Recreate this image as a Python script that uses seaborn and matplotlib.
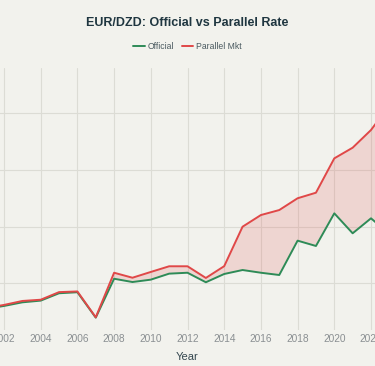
import numpy as np
import pandas as pd
import seaborn as sns
import matplotlib.pyplot as plt

years = list(range(2000, 2024))
official = [74.7, 77.4, 80.0, 83.2, 84.7, 91.2, 92.1, 69.7, 104.0, 101.1, 103.2, 108.5,
            109.3, 100.9, 108.2, 111.7, 109.3, 107.3, 137.6, 132.9, 161.7, 144.1, 157.3, 143.5]
parallel = [75.4, 78.2, 80.9, 84.4, 85.5, 92.2, 92.8, 70.0, 109.3, 104.9, 110.0, 115.0,
            115.0, 104.7, 115.1, 149.9, 160.2, 164.6, 175.0, 179.9, 210.2, 219.6, 235.2, 257.0]
xticks = list(range(2002, 2023, 2))
yticks = [100, 150, 200, 250]

df = pd.DataFrame({'Year': years, 'Official': official, 'Parallel Mkt': parallel})
long = df.melt(id_vars='Year', var_name='Series', value_name='Rate')

sns.set_style('white')
plt.rcParams['font.family'] = ['Liberation Sans', 'DejaVu Sans']

bg = '#f2f2ed'
green = '#2e8b57'
red = '#e04848'

fig = plt.figure(figsize=(3.75, 3.66), dpi=100, facecolor=bg)
ax = fig.add_axes([-0.0872, 0.0984, 1.1744, 0.7158])
ax.set_facecolor(bg)

ax.fill_between(df['Year'], df['Official'], df['Parallel Mkt'], color=red, alpha=0.17, linewidth=0)
sns.lineplot(data=long, x='Year', y='Rate', hue='Series', palette=[green, red],
             linewidth=1.4, ax=ax, legend=False)

ax.set_xlim(2000, 2024)
ax.set_ylim(58.8, 289.9)
ax.set_xticks(xticks)
ax.set_xticklabels([str(y) for y in xticks])
ax.set_yticks(yticks)
ax.set_yticklabels([])
ax.grid(True, color='#dcdcd5', linewidth=0.8)
ax.set_axisbelow(True)
for s in ax.spines.values():
    s.set_visible(False)
ax.tick_params(axis='both', length=0, labelsize=7.3, labelcolor='#8a8f92', pad=3)
ax.set_xlabel('Year', fontsize=8, color='#34474f', labelpad=6)
ax.set_ylabel('')

fig.text(0.5, 0.938, 'EUR/DZD: Official vs Parallel Rate', ha='center', va='center',
         fontsize=9, fontweight='bold', color='#1f3640')

handles = [plt.Line2D([], [], color=green, lw=1.4), plt.Line2D([], [], color=red, lw=1.4)]
fig.legend(handles, ['Official', 'Parallel Mkt'], loc='center', bbox_to_anchor=(0.5, 0.872),
           ncol=2, frameon=False, fontsize=6.2, labelcolor='#4a5a60', handlelength=1.3,
           handletextpad=0.35, columnspacing=0.9)

fig.savefig('out.png', dpi=100, facecolor=bg)
